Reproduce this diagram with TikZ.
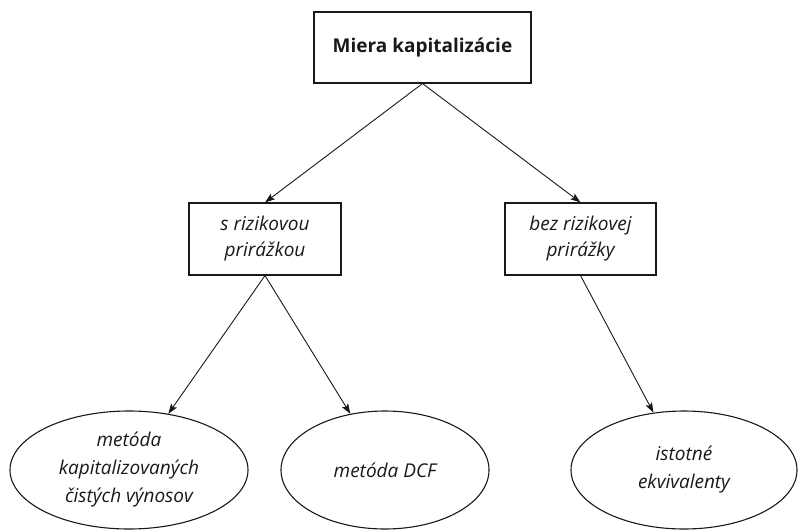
\documentclass[tikz,border=0pt]{standalone}
\usepackage{fontspec}
\setmainfont{Open Sans}
\usetikzlibrary{arrows.meta,shapes.geometric}
\begin{document}
\begin{tikzpicture}[x=1pt,y=-1pt,
  box/.style={draw=black!90, line width=1.1pt, rectangle, align=center, inner sep=0pt},
  oval/.style={draw=black!90, line width=1.1pt, ellipse, align=center, inner sep=0pt},
  conn/.style={draw=black!90, line width=0.9pt, -{Stealth[length=10pt,width=7pt,inset=2pt]}},
  lbl/.style={font=\fontsize{19}{26}\selectfont\itshape, text=black!90},
  olbl/.style={font=\fontsize{19}{28}\selectfont\itshape, text=black!90}
]
\useasboundingbox (0,0) rectangle (800,530);
\node[box, minimum width=217pt, minimum height=71pt, font=\fontsize{19}{22}\selectfont\bfseries, text=black!90] (top) at (422.5,47.5) {Miera kapitalizácie};
\node[box, lbl, minimum width=152pt, minimum height=72pt] (b1) at (265,239) {s rizikovou\\prirážkou};
\node[box, lbl, minimum width=151pt, minimum height=72pt] (b2) at (580.5,239) {bez rizikovej\\prirážky};
\node[oval, olbl, minimum width=238pt, minimum height=118pt] (e1) at (129,470) {metóda\\kapitalizovaných\\čistých výnosov};
\node[oval, olbl, minimum width=208pt, minimum height=118pt] (e2) at (385,470) {metóda DCF};
\node[oval, olbl, minimum width=226pt, minimum height=118pt] (e3) at (684,470) {istotné\\ekvivalenty};
\draw[conn] (top.south) -- (b1.north);
\draw[conn] (top.south) -- (b2.north);
\draw[conn] (b1.south) -- (e1);
\draw[conn] (b1.south) -- (e2);
\draw[conn] (b2.south) -- (e3);
\end{tikzpicture}
\end{document}
